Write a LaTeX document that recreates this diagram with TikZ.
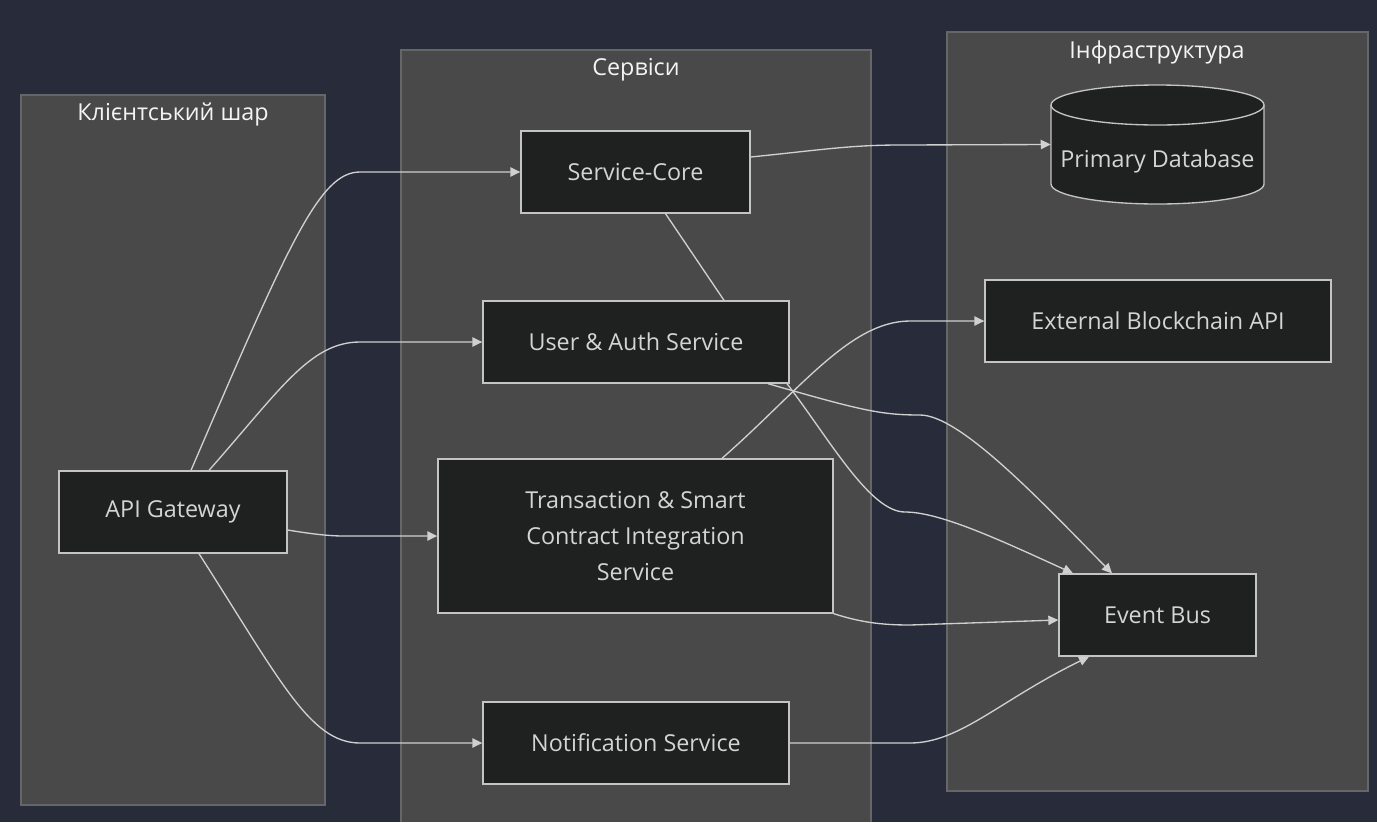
\documentclass[tikz,border=0pt]{standalone}
\usepackage{fontspec}
\setmainfont{Open Sans}
\usepackage{tikz}
\usetikzlibrary{arrows.meta}
\definecolor{bgColor}{HTML}{282C3A}
\definecolor{clusterFill}{HTML}{484948}
\definecolor{clusterLine}{HTML}{65666A}
\definecolor{nodeFill}{HTML}{1F2020}
\definecolor{nodeLine}{HTML}{C4C4C4}
\definecolor{textColor}{HTML}{D4D4D4}
\definecolor{titleColor}{HTML}{F4F4F4}
\definecolor{edgeColor}{HTML}{D0D0D0}
\newcommand{\pxu}{0.75pt}

\begin{document}
\begin{tikzpicture}[x=0.75pt,y=-0.75pt,
font=\fontsize{17.5}{22}\selectfont,
cluster/.style={fill=clusterFill,draw=clusterLine,line width=0.9pt},
title/.style={text=titleColor},
box/.style={shape=rectangle,draw=nodeLine,fill=nodeFill,line width=1pt,text=textColor,
    minimum height=82*\pxu,inner sep=0},
myarrow/.style={-{Triangle[length=7.5pt,width=7pt]},line width=1pt,draw=edgeColor,fill=none},
myedge/.style={line width=1pt,draw=edgeColor}
]
\fill[bgColor] (0,0) rectangle (1377,822);
\useasboundingbox (0,0) rectangle (1377,822);
% clusters
\draw[cluster] (21,95) rectangle (325,805);
\fill[clusterFill] (401,50) rectangle (871,822);
\draw[clusterLine,line width=0.9pt] (401,822) -- (401,50) -- (871,50) -- (871,822);
\draw[cluster] (947,32) rectangle (1368,791);
\node[title] (tClient) at (173,114) {Клієнтський шар};
\node[title] (tSvc) at (636,70) {Сервіси};
\node[title] (tInfra) at (1157,52) {Інфраструктура};
% database cylinder
\draw[draw=nodeLine,fill=nodeFill,line width=1pt] (1051,105) -- (1051,184)
    arc[start angle=180,end angle=360,x radius=79.875pt,y radius=15pt] -- (1264,105)
    arc[start angle=0,end angle=180,x radius=79.875pt,y radius=15pt] -- cycle;
\draw[draw=nodeLine,line width=1pt] (1051,105)
    arc[start angle=180,end angle=360,x radius=79.875pt,y radius=15pt];
% nodes
\node[box,minimum width=228*\pxu] (gw) at (173,512) {API Gateway};
\node[box,minimum width=229*\pxu] (core) at (635.5,172) {Service-Core};
\node[box,minimum width=306*\pxu] (auth) at (636,342) {User \& Auth Service};
\node[box,minimum width=395*\pxu,minimum height=154*\pxu,align=center,
    font=\fontsize{17.5}{27}\selectfont] (tx) at (635.5,536)
    {Transaction \& Smart\\Contract Integration\\Service};
\node[box,minimum width=306*\pxu] (notif) at (636,743) {Notification Service};
\node[shape=rectangle,text=textColor,minimum width=213*\pxu,minimum height=119*\pxu,inner sep=0]
    (db) at (1157.5,144.5) {\raisebox{-17pt}[0pt][0pt]{Primary Database}};
\node[box,minimum width=346*\pxu] (ext) at (1158,321) {External Blockchain API};
\node[box,minimum width=197*\pxu] (bus) at (1157.5,615) {Event Bus};
% edges
\draw[myarrow] ([xshift=18*\pxu]gw.north) .. controls (290,240) and (320,172) .. (360,172) -- (core.west);
\draw[myarrow] ([xshift=36*\pxu]gw.north) .. controls (280,390) and (310,342) .. (360,342) -- (auth.west);
\draw[myarrow] ([yshift=-18*\pxu]gw.east) .. controls (330,537) and (340,536) .. (360,536) -- (tx.west);
\draw[myarrow] ([xshift=26*\pxu]gw.south) .. controls (280,680) and (310,743) .. (360,743) -- (notif.west);
\draw[myedge] ([xshift=30*\pxu]core.south) -- ([xshift=88*\pxu]auth.north);
\draw[myarrow] ([yshift=15*\pxu]core.east) .. controls (820,150) and (850,145) .. (900,145) -- (db.west);
\draw[myarrow] ([xshift=86.5*\pxu]tx.north) .. controls (800,390) and (850,321) .. (910,321) -- (ext.west);
\draw[myarrow] ([xshift=132*\pxu]auth.south) .. controls (860,410) and (880,415) .. (920,415)
    .. controls (960,415) and (1040,500) .. ([xshift=-45.5*\pxu]bus.north);
\draw[myarrow] ([xshift=151*\pxu]auth.south) .. controls (830,440) and (870,512) .. (905,512)
    .. controls (940,512) and (1000,540) .. ([xshift=-84.5*\pxu]bus.north);
\draw[myarrow] (tx.south east) .. controls (860,622) and (880,625) .. (910,625) -- ([yshift=-5*\pxu]bus.west);
\draw[myarrow] (notif.east) -- (910,743) .. controls (960,743) and (1000,700) .. ([xshift=-68.5*\pxu]bus.south);
\end{tikzpicture}
\end{document}
